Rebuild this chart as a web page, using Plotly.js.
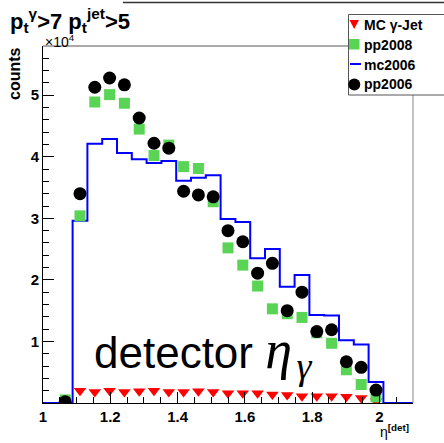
<!DOCTYPE html>
<html><head><meta charset="utf-8">
<script src="https://cdn.plot.ly/plotly-3.0.1.min.js"></script>
<style>html,body{margin:0;padding:0;background:#fff}#chart{width:444px;height:443px}</style>
</head><body><div id="chart"></div>
<script>
// eta^[det] bin centres (bin width 0.044)
const etaBins = [1.022,1.066,1.110,1.154,1.198,1.242,1.286,1.330,1.374,1.418,1.462,1.506,1.550,
                 1.594,1.638,1.682,1.726,1.770,1.814,1.858,1.902,1.946,1.990,2.034,2.078];
const binWidth = 0.044;
// counts, in units of 10^4
const mcGammaJet = [null,null,0.20,0.18,0.20,0.18,0.19,0.20,0.18,0.18,0.19,0.18,0.16,0.16,0.16,0.14,0.13,0.11,0.11,0.11,0.10,0.08,0.03,null,null];
const pp2008 = [null,0.05,3.04,4.89,5.01,4.87,4.45,4.02,4.19,3.84,3.81,3.27,2.52,2.24,1.90,1.53,1.45,1.39,1.14,0.97,0.54,0.30,0.10,null,null];
const mc2006 = [0,0,2.96,4.21,4.29,4.06,3.96,3.90,3.93,3.61,3.66,3.70,2.99,2.94,2.35,2.50,1.89,2.08,1.43,1.42,1.02,0.95,0.34,0,0];
const pp2006 = [null,0.02,3.40,5.13,5.28,5.17,4.63,4.22,4.14,3.44,3.38,3.35,2.80,2.62,2.11,2.27,1.50,1.80,1.16,1.19,0.67,0.58,0.21,null,null];
const xTickVals = [1,1.2,1.4,1.6,1.8,2];
const xTickText = ['1','1.2','1.4','1.6','1.8','2'];
const yTickVals = [1,2,3,4,5];
const yTickText = ['1','2','3','4','5'];
const seriesNames = ['MC γ-Jet','pp2008','mc2006','pp2006'];
const seriesColors = ['#ff0000','#59d454','#0000ff','#000000'];

// histogram step outline built from bin centres
const stepX = etaBins.map(c => c - binWidth/2).concat([etaBins[etaBins.length-1] + binWidth/2]);
const stepY = mc2006.concat([mc2006[mc2006.length-1]]);

const W = 444, H = 443, L = 43, R = 413, T = 46, B = 403;
const px = x => (x - L) / (R - L);
const py = y => (B - y) / (B - T);
const FONT = 'Liberation Sans, Arial, sans-serif';

const traces = [
  {x: etaBins, y: mcGammaJet, name: seriesNames[0], type: 'scatter', mode: 'markers',
   marker: {symbol: 'triangle-down', size: 11, color: seriesColors[0]}, showlegend: false},
  {x: stepX, y: stepY, name: seriesNames[2], type: 'scatter', mode: 'lines',
   line: {shape: 'hv', color: seriesColors[2], width: 2}, showlegend: false},
  {x: etaBins, y: pp2008, name: seriesNames[1], type: 'scatter', mode: 'markers',
   marker: {symbol: 'square', size: 11, color: seriesColors[1]}, showlegend: false},
  {x: etaBins, y: pp2006, name: seriesNames[3], type: 'scatter', mode: 'markers',
   marker: {symbol: 'circle', size: 13, color: seriesColors[3]}, showlegend: false}
];

const legendRows = [25, 44.5, 64.5, 84.5];
const shapes = [
  {type: 'line', xref: 'paper', yref: 'paper', x0: 0, x1: 1, y0: 1, y1: 1, line: {color: '#555', width: 1}},
  {type: 'line', xref: 'paper', yref: 'paper', x0: 1, x1: 1, y0: 0, y1: 1, line: {color: '#888', width: 1}},
  {type: 'line', xref: 'paper', yref: 'paper', x0: px(123), x1: px(446), y0: py(2.5), y1: py(2.5), line: {color: '#333', width: 1.5}},
  {type: 'rect', xref: 'paper', yref: 'paper', x0: px(348.5), x1: px(447), y0: py(95), y1: py(14.5),
   fillcolor: '#fff', line: {color: '#555', width: 1}},
  {type: 'path', xref: 'paper', yref: 'paper',
   path: 'M' + px(349.5) + ',' + py(20) + ' L' + px(359) + ',' + py(20) + ' L' + px(354.2) + ',' + py(29) + ' Z',
   fillcolor: seriesColors[0], line: {width: 0}},
  {type: 'rect', xref: 'paper', yref: 'paper', x0: px(349), x1: px(359.5), y0: py(49.5), y1: py(39),
   fillcolor: seriesColors[1], line: {width: 0}},
  {type: 'line', xref: 'paper', yref: 'paper', x0: px(350), x1: px(361), y0: py(64), y1: py(64),
   line: {color: seriesColors[2], width: 2}},
  {type: 'circle', xref: 'paper', yref: 'paper', x0: px(348.3), x1: px(360.3), y0: py(90.5), y1: py(78.5),
   fillcolor: seriesColors[3], line: {width: 0}}
];

const annotations = seriesNames.map((n, i) => ({
  xref: 'paper', yref: 'paper', x: px(362), y: py(legendRows[i]), xanchor: 'left', yanchor: 'middle',
  text: n, showarrow: false, font: {family: FONT, size: 14, color: '#000', weight: 'bold'}
}));
annotations.push(
  {xref: 'paper', yref: 'paper', x: px(43), y: py(41), xanchor: 'left', yanchor: 'middle',
   text: '×10<sup>4</sup>', showarrow: false, font: {family: FONT, size: 14, color: '#000'}},
  {xref: 'paper', yref: 'paper', x: px(14), y: py(74), xanchor: 'center', yanchor: 'middle', textangle: -90,
   text: 'counts', showarrow: false, font: {family: FONT, size: 16, color: '#000', weight: 'bold'}},
  {xref: 'paper', yref: 'paper', x: px(378), y: py(431), xanchor: 'left', yanchor: 'middle',
   text: 'η<sup><b>[det]</b></sup>', showarrow: false, font: {family: FONT, size: 14, color: '#000'}},
  {xref: 'paper', yref: 'paper', x: px(92), y: py(353), xanchor: 'left', yanchor: 'middle',
   text: 'detector <span style="font-family:Liberation Serif;font-size:54px"><i>η&#8202;<sub>γ</sub></i></span>',
   showarrow: false, font: {family: FONT, size: 44, color: '#000'}}
);

const layout = {
  width: W, height: H,
  margin: {l: L, r: W - R, t: T, b: H - B, pad: 0},
  paper_bgcolor: '#fff', plot_bgcolor: '#fff',
  showlegend: false,
  title: {text: 'p<sub>t</sub><sup>γ</sup>&gt;7 p<sub>t</sub><sup>jet</sup>&gt;5',
          xref: 'container', yref: 'container', x: 10 / W, xanchor: 'left', y: 1 - 21 / H, yanchor: 'middle',
          font: {family: FONT, size: 22, color: '#000', weight: 'bold'}},
  xaxis: {range: [1, 2.1], tickmode: 'array', tickvals: xTickVals, ticktext: xTickText,
          ticks: 'inside', ticklen: 11, tickwidth: 1, tickcolor: '#000',
          showline: true, linecolor: '#000', linewidth: 1, showgrid: false, zeroline: false,
          tickfont: {family: FONT, size: 15, color: '#000', weight: 'bold'},
          minor: {ticks: 'inside', ticklen: 6, tickmode: 'linear', tick0: 1, dtick: 0.05, tickcolor: '#000', showgrid: false}},
  yaxis: {range: [0, 5.8], tickmode: 'array', tickvals: yTickVals, ticktext: yTickText,
          ticks: 'inside', ticklen: 11, tickwidth: 1, tickcolor: '#000',
          showline: true, linecolor: '#000', linewidth: 1, showgrid: false, zeroline: false,
          tickfont: {family: FONT, size: 15, color: '#000', weight: 'bold'},
          minor: {ticks: 'inside', ticklen: 6, tickmode: 'linear', tick0: 0, dtick: 0.2, tickcolor: '#000', showgrid: false}},
  shapes: shapes,
  annotations: annotations
};

Plotly.newPlot('chart', traces, layout, {displayModeBar: false, staticPlot: true});
</script>
</body></html>
